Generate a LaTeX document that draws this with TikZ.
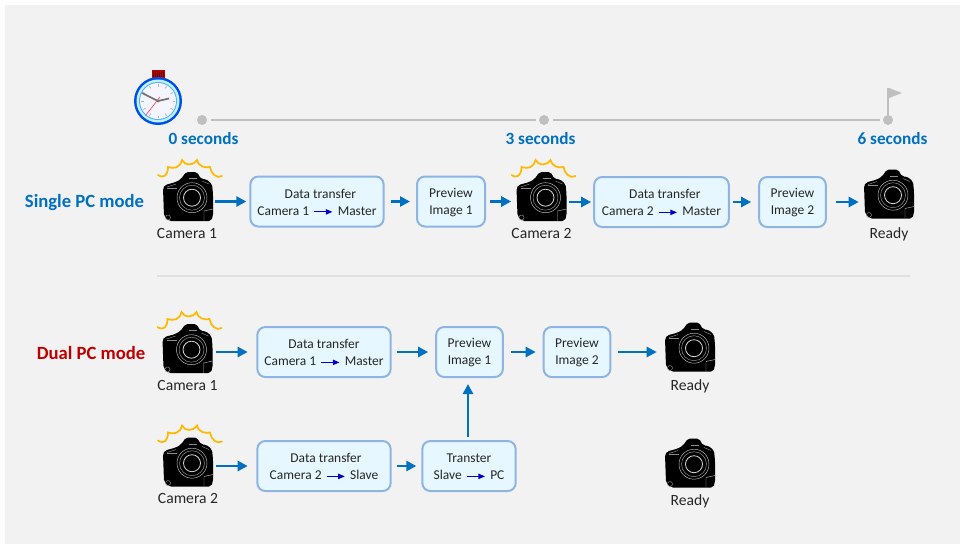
\documentclass[tikz,border=0pt]{standalone}
\usepackage{fontspec}
\setmainfont{Carlito}
\usetikzlibrary{arrows.meta,positioning}
\definecolor{bg}{HTML}{F2F2F2}
\definecolor{flow}{HTML}{0070C0}
\definecolor{boxline}{HTML}{8DB4E2}
\definecolor{boxfill}{HTML}{E6F7FF}
\definecolor{dual}{HTML}{C00000}
\definecolor{tl}{HTML}{BFBFBF}
\definecolor{flash}{HTML}{FFB900}
\tikzset{
  x=0.75pt,y=-0.75pt,
  flowbox/.style={draw=boxline,line width=1.5pt,fill=boxfill,rounded corners=6pt,align=center,font=\fontsize{10.1}{12.75}\selectfont,text=black!85,inner sep=0pt},
  flowarrow/.style={draw=flow,line width=1.9pt,-{Triangle[length=7.5pt,width=7.5pt]}},
  miniarrow/.style={draw=blue!80!black,line width=0.9pt,-{Triangle[length=5pt,width=4pt]}},
  camlabel/.style={font=\fontsize{11.7}{13}\selectfont,text=black!85,inner sep=0pt},
  camslot/.style={minimum width=37.5pt,minimum height=37.5pt,inner sep=0pt},
  timelabel/.style={font=\bfseries\fontsize{12.9}{15}\selectfont,text=flow,inner sep=0pt},
  modelabel/.style={font=\bfseries\fontsize{14}{16}\selectfont,inner sep=0pt},
  tick/.style={circle,fill=tl,minimum size=7.5pt,inner sep=0pt},
  camera/.pic={
    \fill[black,rounded corners=1.5pt] (-25,-9) -- (-23,-12) -- (-12,-15) -- (-7,-18) -- (-2,-25) -- (9,-25) -- (13,-18)
      -- (18,-18) -- (24,-13) -- (25,-3) -- (25,19) -- (23,24) -- (-19,24) -- (-24,19) -- cycle;
    \draw[white!75!black,line width=.35pt] (4,0.7) circle (15);
    \draw[white!60!black,line width=.35pt] (4,0.7) circle (12.5);
    \draw[white!85!black,line width=.6pt] (4,0.7) circle (8.5);
    \draw[white!55!black,line width=.35pt] (1,-18.5) -- (9,-18.5);
    \draw[white!55!black,line width=.35pt] (-21,-10) -- (-12,-13);
    \draw[white!55!black,line width=.35pt] (-21,-9) -- (-11,-9);
    \draw[white!55!black,line width=.35pt] (-20,20.5) circle (2.5);
    \draw[white!70!black,line width=.35pt] (16,24) -- (16,14) -- (25,12);
    \draw[white!55!black,line width=.35pt] (14,-16) -- (21,-13);
  },
  flashburst/.pic={
    \draw[flash,line width=1.3pt,line cap=round]
      (-30,-22) .. controls (-24,-18) and (-20,-22) .. (-20,-30)
      .. controls (-14,-28) and (-8,-29) .. (-6,-37)
      .. controls (-3,-31) and (5,-31) .. (9,-37)
      .. controls (11,-30) and (17,-29) .. (22,-30)
      .. controls (23,-23) and (29,-18) .. (34,-21);
  }
}
\newcommand{\mini}[2]{#1\hspace{3.5pt}\tikz[baseline=-0.55ex]\draw[miniarrow](0,0)--(13.5pt,0);\hspace{3.5pt}#2}
\newcommand{\hh}{\rule{0pt}{8.2pt}}
\begin{document}
\begin{tikzpicture}
\useasboundingbox (0,0) rectangle (960,544);
\fill[white] (0,0) rectangle (960,544);
\fill[bg] (5,5) rectangle (960,544);

% timeline
\node[tick] (t0) at (202,120) {};
\node[tick] (t3) at (544,120) {};
\node[tick] (t6) at (888,120) {};
\draw[tl,line width=1.5pt,shorten <=3pt,shorten >=2pt] (t0) -- (t3);
\draw[tl,line width=1.5pt,shorten <=3pt,shorten >=2pt] (t3) -- (t6);
\coordinate (flagtop) at (888,88);
\draw[tl,line width=1.5pt] (t6) -- (flagtop);
\fill[tl] (889,88) -- (902,93) -- (889,98) -- cycle;
\node[timelabel] (l0) at (203.5,139) {0 seconds};
\node[timelabel] (l3) at (540.5,139) {3 seconds};
\node[timelabel] (l6) at (892.5,139) {6 seconds};

% stopwatch
\begin{scope}[shift={(158,101)}]
  \fill[red!75!black] (-6.5,-31) rectangle (6.5,-23);
  \foreach \i in {-5,-3,...,5} \draw[red!40!black,line width=.3pt] (\i,-30) -- (\i,-24);
  \fill[blue!65!cyan!90!black] (0,0) circle (24);
  \fill[blue!22!cyan!25!white] (0,0) circle (21.5);
  \fill[blue!45!cyan!70!white] (0,0) circle (19);
  \fill[white!96!blue] (0,0) circle (18);
  \foreach \a in {0,30,...,330} \draw[black!30,line width=.6pt] (\a:14.5) -- (\a:17);
  \draw[black!55,line width=1.3pt] (0,0) -- (-16,-8);
  \draw[black!55,line width=1.3pt] (0,0) -- (11,-2.5);
  \draw[red!70,line width=.5pt] (-12.5,14.5) -- (2,-4);
  \fill[black!55] (0,0) circle (1.7);
\end{scope}

% mode labels
\node[modelabel,text=flow] (single) at (84.5,202.5) {Single PC mode};
\node[modelabel,text=dual] (dualm) at (91,353.5) {Dual PC mode};

% separator
\coordinate (sepa) at (157,276);
\coordinate (sepb) at (910,276);
\draw[black!12,line width=.8pt] (sepa) -- (sepb);

% row 1
\node[camslot] (c1) at (188,197) {}; \pic at (c1) {camera}; \pic at (c1) {flashburst};
\node[camlabel] (cl1) at (187,233) {Camera 1};
\node[flowbox,minimum width=100pt,minimum height=37.5pt] (b1) at (317,201.5) {\hh\hspace{5pt}Data transfer\\\mini{Camera 1}{Master}};
\node[flowbox,minimum width=51pt,minimum height=37.5pt] (b2) at (451,201.5) {\hh Preview\\Image 1};
\node[camslot] (c2) at (541.5,197) {}; \pic at (c2) {camera}; \pic at (c2) {flashburst};
\node[camlabel] (cl2) at (541.5,233) {Camera 2};
\node[flowbox,minimum width=101pt,minimum height=37.5pt] (b3) at (661.5,202) {\hh\hspace{5pt}Data transfer\\\mini{Camera 2}{Master}};
\node[flowbox,minimum width=50pt,minimum height=37.5pt] (b4) at (792.5,202) {\hh Preview\\Image 2};
\node[camslot] (c3) at (889,194.5) {}; \pic at (c3) {camera};
\node[camlabel] (cl3) at (889,234) {Ready};

% row 2
\node[camslot] (c4) at (187.5,349) {}; \pic at (c4) {camera}; \pic at (c4) {flashburst};
\node[camlabel] (cl4) at (187.5,385) {Camera 1};
\node[flowbox,minimum width=100pt,minimum height=37.5pt] (d1) at (324,352) {\hh Data transfer\\\mini{Camera 1}{Master}};
\node[flowbox,minimum width=50pt,minimum height=37.5pt] (d2) at (469.5,352) {\hh Preview\\Image 1};
\node[flowbox,minimum width=50pt,minimum height=37.5pt] (d3) at (577,352) {\hh Preview\\Image 2};
\node[camslot] (c5) at (690,347.5) {}; \pic at (c5) {camera};
\node[camlabel] (cl5) at (690,386.5) {Ready};

% row 3
\node[camslot] (c6) at (188,462.5) {}; \pic at (c6) {camera}; \pic at (c6) {flashburst};
\node[camlabel] (cl6) at (188,498) {Camera 2};
\node[flowbox,minimum width=100pt,minimum height=37.5pt] (e1) at (324,466) {\hh\hspace{3pt}Data transfer\\\mini{Camera 2}{Slave}};
\node[flowbox,minimum width=70pt,minimum height=37.5pt] (e2) at (469,466) {\hh Transter\\\mini{Slave}{PC}};
\node[camslot] (c7) at (690,463.5) {}; \pic at (c7) {camera};
\node[camlabel] (cl7) at (690,501.5) {Ready};

% connectors
\draw[flowarrow,shorten <=1.5pt,shorten >=2.25pt] (c1.east|-b1.west) -- (b1.west);
\draw[flowarrow,shorten <=4.5pt,shorten >=4.5pt] (b1.east) -- (b2.west);
\draw[flowarrow,shorten <=3pt,shorten >=3.75pt] (b2.east) -- (c2.west|-b2.east);
\draw[flowarrow,shorten <=1.5pt,shorten >=1.5pt] (c2.east|-b3.west) -- (b3.west);
\draw[flowarrow,shorten <=2.25pt,shorten >=5.25pt] (b3.east) -- (b4.west);
\draw[flowarrow,shorten <=6.75pt,shorten >=3.75pt] (b4.east) -- (c3.west|-b4.east);

\draw[flowarrow,shorten <=2.25pt,shorten >=6.5pt] (c4.east|-d1.west) -- (d1.west);
\draw[flowarrow,shorten <=3.75pt,shorten >=5.25pt] (d1.east) -- (d2.west);
\draw[flowarrow,shorten <=5.25pt,shorten >=5.25pt] (d2.east) -- (d3.west);
\draw[flowarrow,shorten <=5.25pt,shorten >=6pt] (d3.east) -- (c5.west|-d3.east);

\draw[flowarrow,shorten <=2.25pt,shorten >=6.5pt] (c6.east|-e1.west) -- (e1.west);
\draw[flowarrow,shorten <=3.75pt,shorten >=3.75pt] (e1.east) -- (e2.west);
\coordinate (vs) at ([xshift=-0.75pt]e2.north);
\draw[flowarrow,shorten <=2.25pt,shorten >=4.5pt] (vs) -- (vs|-d2.south);
\end{tikzpicture}
\end{document}
